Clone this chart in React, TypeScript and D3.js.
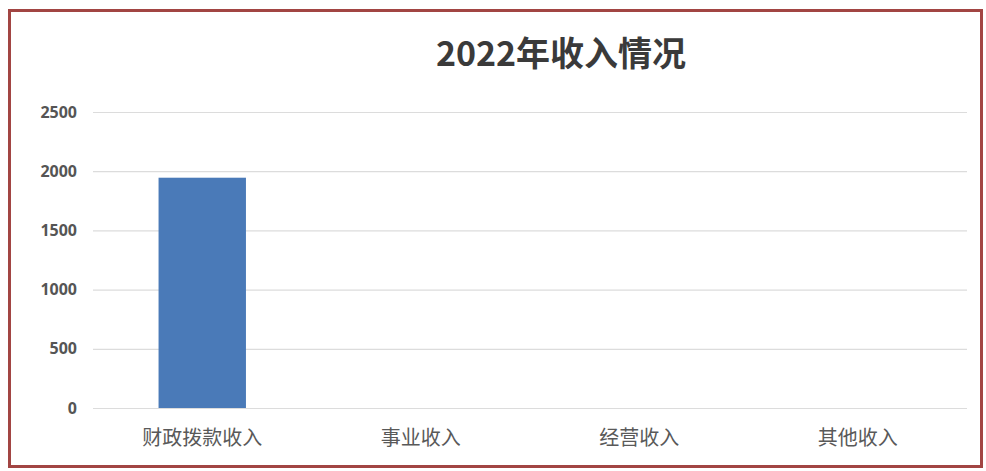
import { useEffect, useRef } from "react"
import * as d3 from "d3"

const categories = ["财政拨款收入", "事业收入", "经营收入", "其他收入"]
const values = [1945, 0, 0, 0]
const yTicks = [0, 500, 1000, 1500, 2000, 2500]
const title = "2022年收入情况"

export default function App() {
  const ref = useRef<SVGSVGElement>(null)

  useEffect(() => {
    if (!ref.current) return
    const el = ref.current
    d3.select(el).selectAll("*").remove()

    const W = 986
    const H = 471
    const margin = { top: 112, right: 19, bottom: 63, left: 93 }
    const iW = W - margin.left - margin.right
    const iH = H - margin.top - margin.bottom

    const svg = d3.select(el).attr("width", W).attr("height", H).attr("viewBox", `0 0 ${W} ${H}`)

    svg.append("rect").attr("width", W).attr("height", H).attr("fill", "#fff")

    // frame
    svg.append("rect")
      .attr("x", 9.5)
      .attr("y", 10.5)
      .attr("width", 972)
      .attr("height", 456)
      .attr("fill", "none")
      .attr("stroke", "#a24543")
      .attr("stroke-width", 3)

    svg.append("text")
      .attr("x", 561)
      .attr("y", 66)
      .attr("text-anchor", "middle")
      .attr("font-family", "'Noto Sans CJK SC', 'Noto Sans', sans-serif")
      .attr("font-weight", "bold")
      .attr("font-size", 34)
      .attr("fill", "#3a3a3a")
      .text(title)

    const g = svg.append("g").attr("transform", `translate(${margin.left},${margin.top})`)

    const x = d3.scaleBand().domain(categories).range([0, iW]).paddingInner(0.6).paddingOuter(0.3)
    const y = d3.scaleLinear().domain([0, 2500]).range([iH, 0])

    // grid + y labels
    g.append("g")
      .call(d3.axisLeft(y).tickValues(yTicks).tickFormat(d3.format("d")).tickSize(-iW).tickPadding(16))
      .call((ax) => ax.select(".domain").remove())
      .call((ax) => ax.selectAll(".tick line").attr("stroke", "#dcdcdc").attr("stroke-width", 1.2))
      .call((ax) =>
        ax.selectAll(".tick text")
          .attr("fill", "#555")
          .attr("font-size", 16)
          .attr("font-weight", "bold")
          .attr("font-family", "'Open Sans', sans-serif")
      )

    // x labels
    g.append("g")
      .attr("transform", `translate(0,${iH})`)
      .call(d3.axisBottom(x).tickSize(0).tickPadding(23))
      .call((ax) => ax.select(".domain").remove())
      .call((ax) =>
        ax.selectAll(".tick text")
          .attr("fill", "#595959")
          .attr("font-size", 20)
          .attr("font-family", "'Noto Sans CJK SC', sans-serif")
      )

    g.selectAll("rect.bar")
      .data(categories.map((c, i) => ({ c, v: values[i] })))
      .join("rect")
      .attr("class", "bar")
      .attr("x", (d) => x(d.c)!)
      .attr("y", (d) => y(d.v))
      .attr("width", x.bandwidth())
      .attr("height", (d) => iH - y(d.v))
      .attr("fill", "#4a7ab8")
  }, [])

  return (
    <div style={{ position: "absolute", left: 0, top: 0 }}>
      <svg ref={ref} style={{ display: "block" }} />
    </div>
  )
}
